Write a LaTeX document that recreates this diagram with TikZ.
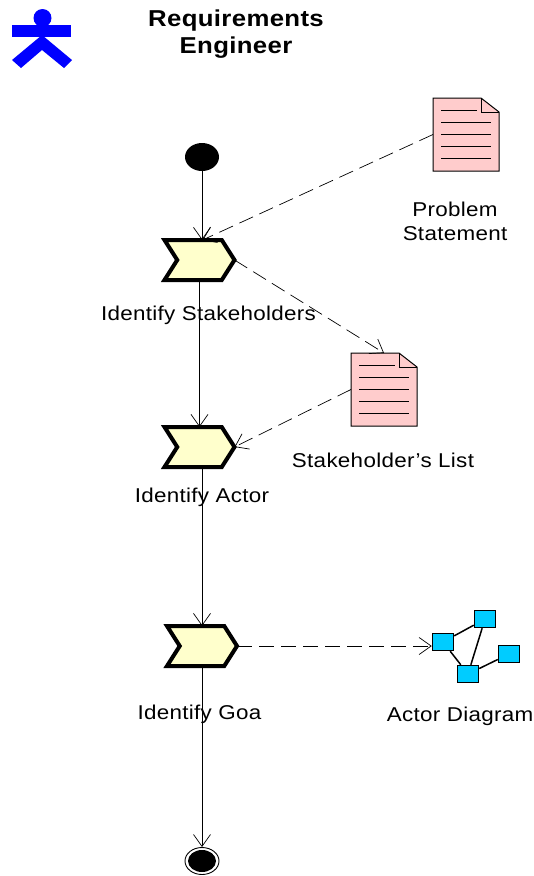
\documentclass[tikz,border=0pt]{standalone}
\usepackage{fontspec}
\setmainfont{Liberation Sans}[FakeStretch=1.12, LetterSpace=1.5]
\usetikzlibrary{positioning, arrows.meta, shapes.geometric, shapes.symbols, calc}

\definecolor{actfill}{HTML}{FFFFCC}
\definecolor{docfill}{HTML}{FFCCCC}
\definecolor{boxfill}{HTML}{00CCFF}

\begin{document}
\begin{tikzpicture}[
                x=1pt, y=-1pt,
                >={Straight Barb[length=12pt,width=17pt]},
                activity/.style={signal, signal to=east, signal from=west, signal pointer angle=115, draw=black, fill=actfill, line width=4pt, minimum width=70pt, minimum height=40pt, inner sep=0pt, outer sep=0pt},
                docnote/.style={rectangle, minimum width=66pt, minimum height=73pt, inner sep=0pt, outer sep=0pt},
                smallbox/.style={rectangle, draw=black, fill=boxfill, line width=1.5pt, minimum width=21pt, minimum height=17pt, inner sep=0pt},
                startdot/.style={ellipse, fill=black, minimum width=34pt, minimum height=28pt, inner sep=0pt},
                enddot/.style={ellipse, draw=black, line width=0.9pt, minimum width=34pt, minimum height=27pt, inner sep=0pt},
                label/.style={align=center, inner sep=0pt, font=\fontsize{20}{24}\selectfont},
                flow/.style={->, line width=0.7pt},
                depend/.style={->, line width=0.7pt, dash pattern=on 15pt off 7pt},
            ]
                \useasboundingbox (0,0) rectangle (534,876);

                % Draw the worker figure
                \fill[blue] (42.5,18) circle[radius=9pt];
                \fill[blue] (12,25) rectangle (71,37);
                \fill[blue] (42,35) -- (12,60) -- (21,68) -- (42,50) -- (64,68) -- (72,60) -- cycle;
                \node[label, font=\bfseries\fontsize{23}{27}\selectfont] (title) at (236,34.5) {Requirements\\Engineer};

                % Draw the start and end nodes
                \node[startdot] (start) at (202,157) {};
                \node[enddot] (end) at (202,861) {};
                \node[ellipse, fill=black, minimum width=28pt, minimum height=22pt, inner sep=0pt] (endcore) at (end) {};

                % Draw the activities
                \foreach \name / \x / \y in {actone/199.5/260, acttwo/199.5/447, actthree/202/646}
                    \node[activity] (\name) at (\x,\y) {};

                % Draw the documents
                \foreach \name / \x / \y in {docone/466/134.5, doctwo/384/389.5}
                {
                    \node[docnote] (\name) at (\x,\y) {};
                    \draw[fill=docfill, line width=1pt] (\name.north west) -- ($(\name.north east)+(-18,0)$) -- ($(\name.north east)+(0,14)$) -- (\name.south east) -- (\name.south west) -- cycle;
                    \draw[line width=1pt] ($(\name.north east)+(-18,0)$) -- ($(\name.north east)+(-18,14)$) -- ($(\name.north east)+(0,14)$);
                    \draw[line width=0.6pt] ($(\name.north west)+(8,12)$) -- ($(\name.north west)+(44,12)$);
                    \foreach \d in {24,36,48,60}
                        \draw[line width=0.6pt] ($(\name.north west)+(8,\d)$) -- ($(\name.north west)+(58,\d)$);
                }

                % Draw the actor diagram boxes
                \foreach \name / \x / \y in {boxa/443/642, boxb/485/619, boxc/468/674, boxd/509/654}
                    \node[smallbox] (\name) at (\x,\y) {};
                \foreach \source / \dest in {boxa/boxb, boxa/boxc, boxb/boxc, boxc/boxd}
                    \draw[line width=1.5pt] (\source) -- (\dest);

                % Draw the labels
                \node[label] (lblone) at (208.5,315) {Identify Stakeholders};
                \node[label] (lbltwo) at (202,497.5) {Identify Actor};
                \node[label] (lblthree) at (199.5,714) {Identify Goa};
                \node[label] (lblprob) at (455,221) {Problem\\Statement};
                \node[label] (lbllist) at (383,460) {Stakeholder's List};
                \node[label] (lbldiag) at (460,716) {Actor Diagram};

                % Connect the activities
                \draw[flow] (start) -- (start |- actone.north);
                \draw[flow] (actone.south) -- (acttwo.north);
                \draw[flow] (actthree |- acttwo.south) -- (actthree.north);
                \draw[flow] (actthree.south) -- (end.north);

                % Connect the documents with the activities
                \draw[depend] (docone.west) -- ([xshift=3pt]actone.north);
                \draw[depend] (actone.east) -- (doctwo.north);
                \draw[depend] (doctwo.west) -- (acttwo.east);
                \draw[depend] (actthree.east) -- (actthree.east -| boxa.west);
            \end{tikzpicture}
\end{document}
